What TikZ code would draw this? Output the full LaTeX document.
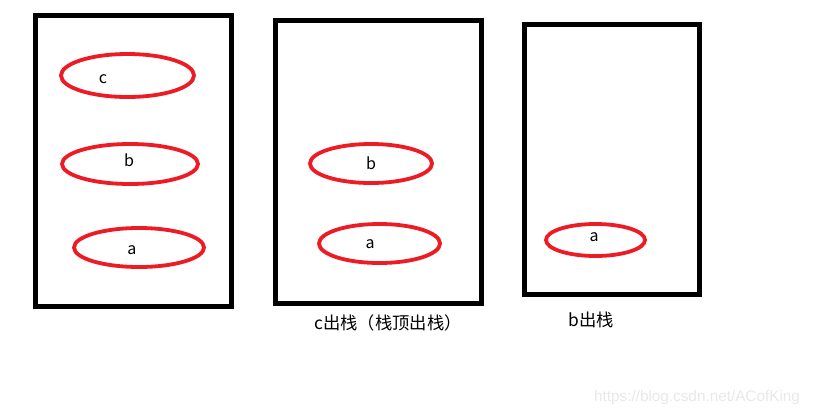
\documentclass[tikz,border=0pt]{standalone}
\usepackage{fontspec}
\setmainfont{Noto Sans CJK SC}
\newfontfamily\markfont{Liberation Sans}
\usetikzlibrary{shapes.geometric}
\definecolor{paintred}{RGB}{237,28,36}
\definecolor{markgray}{RGB}{232,232,232}
\begin{document}
\begin{tikzpicture}[
            x=1pt, y=-1pt,
            pile/.style={draw=black, line width=4.6pt, rectangle, inner sep=0pt}, pile/.default=,
            elem/.style={draw=paintred, line width=3.8pt, ellipse, inner sep=0pt}, elem/.default=,
            lettre/.style={font=\fontsize{16}{18}\selectfont, inner sep=0pt}, lettre/.default=,
            legende/.style={font=\fontsize{17.3}{19}\selectfont, inner sep=0pt}, legende/.default=,
        ]
        \useasboundingbox (0,0) rectangle (813,416);
        % les trois piles
        \node[pile, minimum width=196pt, minimum height=291pt] (pileA) at (133.5,161) {};
        \node[pile, minimum width=206pt, minimum height=283pt] (pileB) at (378.5,162) {};
        \node[pile, minimum width=175pt, minimum height=270pt] (pileC) at (612,159.5) {};
        % pile de depart
        \node[elem, minimum width=133pt, minimum height=43pt] (Ac) at (127.5,75.5) {};
        \node[elem, minimum width=136pt, minimum height=40pt] (Ab) at (130,164) {};
        \node[elem, minimum width=130pt, minimum height=39pt] (Aa) at (139,247.5) {};
        \node[lettre] (tAc) at (103,79) {c};
        \node[lettre] (tAb) at (129,160) {b};
        \node[lettre] (tAa) at (132,250) {a};
        % apres c
        \node[elem, minimum width=122pt, minimum height=39pt] (Bb) at (371,163.5) {};
        \node[elem, minimum width=121pt, minimum height=39pt] (Ba) at (379.5,243.5) {};
        \node[lettre] (tBb) at (371,163) {b};
        \node[lettre] (tBa) at (370,244) {a};
        % apres b
        \node[elem, minimum width=99pt, minimum height=32pt] (Ca) at (595.5,240) {};
        \node[lettre] (tCa) at (594,237) {a};
        \node[legende] (legB) at (388,323) {c出栈（栈顶出栈）};
        \node[legende] (legC) at (591,320) {b出栈};
        \node[font=\markfont\fontsize{15.3}{17}\selectfont, text=markgray, inner sep=0pt] (marque) at (697,398) {https://blog.csdn.net/ACofKing};
    \end{tikzpicture}
\end{document}
